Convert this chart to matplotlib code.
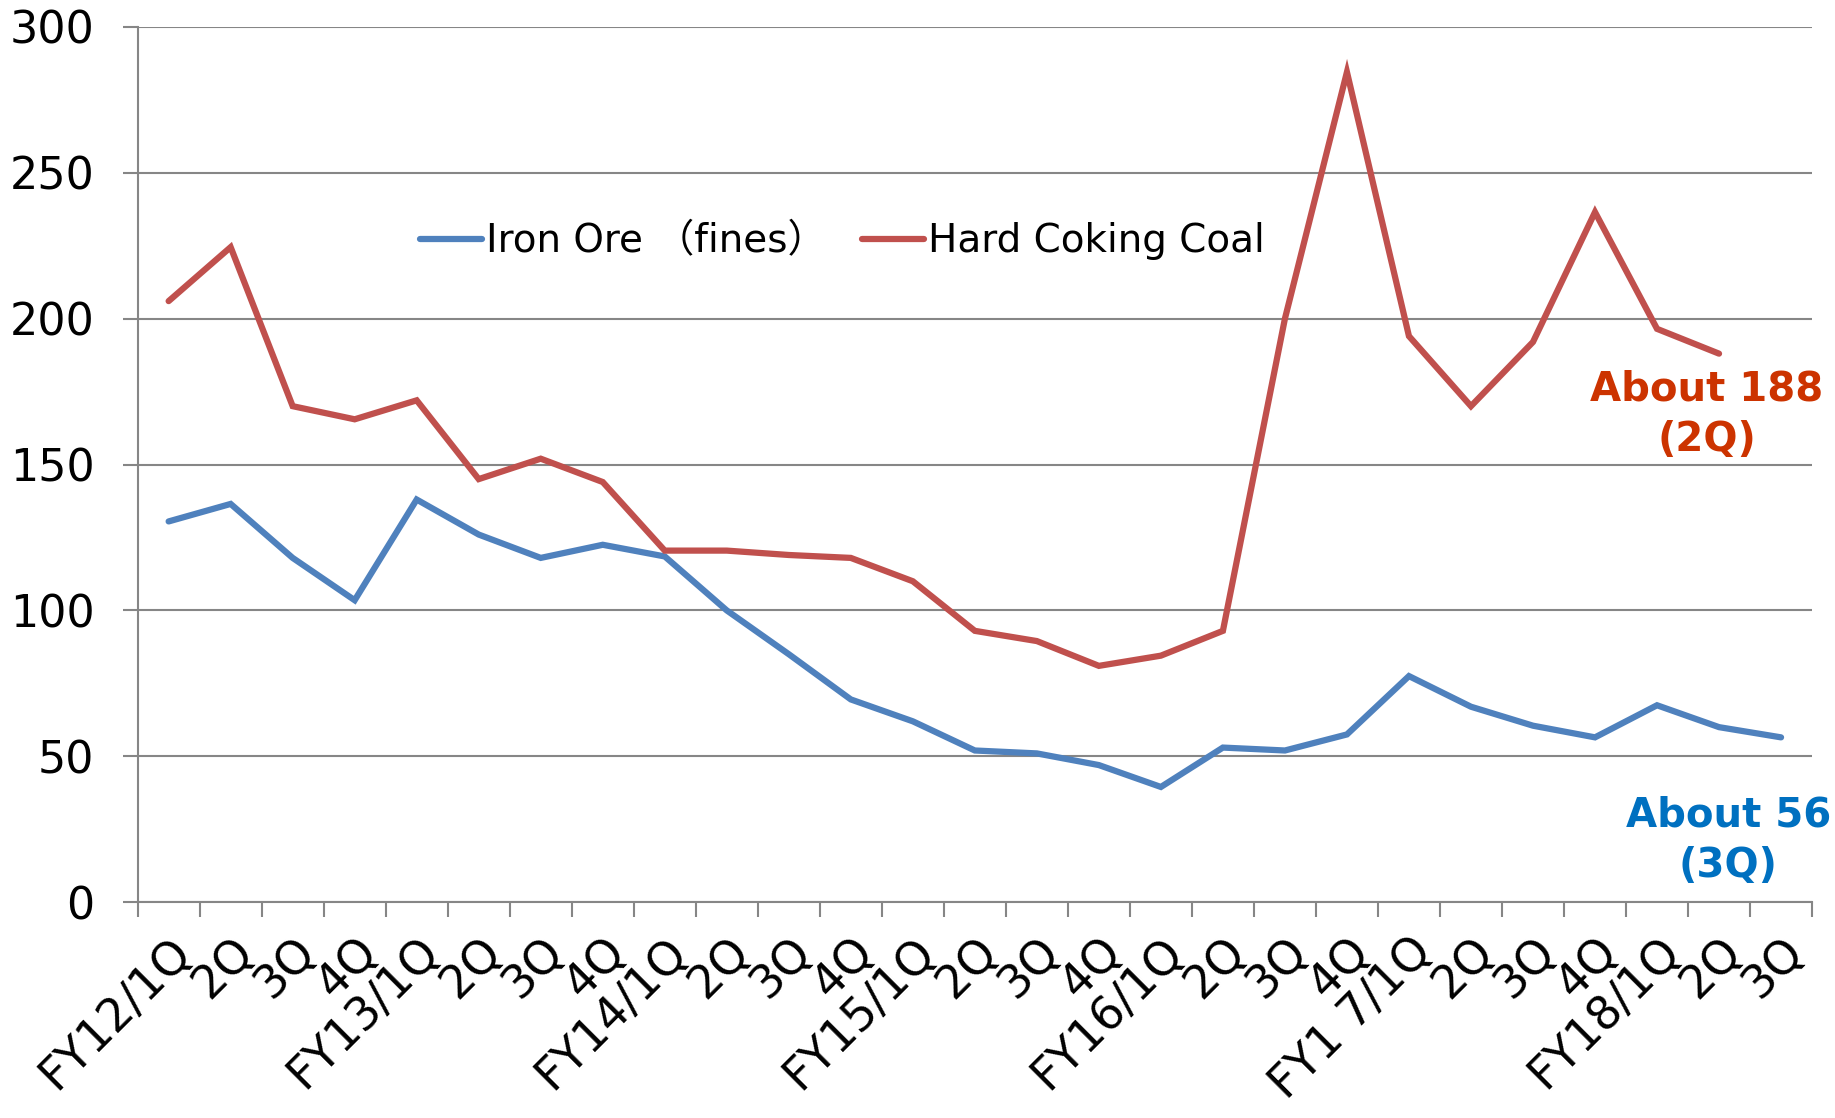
import matplotlib
matplotlib.use("Agg")
import matplotlib.pyplot as plt
import numpy as np

plt.rcParams['font.family'] = ['DejaVu Sans', 'Noto Sans CJK JP']

# quarters on the x axis
quarters = ["FY12/1Q", "2Q", "3Q", "4Q",
            "FY13/1Q", "2Q", "3Q", "4Q",
            "FY14/1Q", "2Q", "3Q", "4Q",
            "FY15/1Q", "2Q", "3Q", "4Q",
            "FY16/1Q", "2Q", "3Q", "4Q",
            "FY1 7/1Q", "2Q", "3Q", "4Q",
            "FY18/1Q", "2Q", "3Q"]

iron_ore = [130.5, 136.5, 118, 103.5, 138, 126, 118, 122.5,
            118.5, 100, 85, 69.5, 62, 52, 51, 47,
            39.5, 53, 52, 57.5, 77.5, 67, 60.5, 56.5,
            67.5, 60, 56.5]
coking_coal = [206, 224.5, 170, 165.5, 172, 145, 152, 144,
               120.5, 120.5, 119, 118, 110, 93, 89.5, 81,
               84.5, 93, 200, 284.5, 194, 170, 192, 236.5,
               196.5, 188]

blue = "#4F81BD"
red = "#C0504D"
grid = "#868686"

fig = plt.figure(figsize=(18.35, 11.18), dpi=100)
ax = fig.add_axes([0.075, 0.193, 0.9125, 0.783])

x = np.arange(len(quarters))
ax.plot(x, iron_ore, color=blue, lw=4.5, solid_capstyle='round', solid_joinstyle='miter',
        label="Iron Ore （fines）")
ax.plot(x[:len(coking_coal)], coking_coal, color=red, lw=4.5, solid_capstyle='round',
        solid_joinstyle='miter', label="Hard Coking Coal")

ax.set_xlim(-0.5, len(quarters) - 0.5)
ax.set_ylim(0, 300)
ax.set_yticks(np.arange(0, 301, 50))
ax.yaxis.grid(True, color=grid, lw=1.5)
ax.set_axisbelow(True)

for s in ["top", "right"]:
    ax.spines[s].set_visible(False)
for s in ["left", "bottom"]:
    ax.spines[s].set_color(grid)
    ax.spines[s].set_linewidth(1.5)

ax.tick_params(axis='y', length=11, width=1.5, color=grid, labelsize=32, pad=20)
ax.set_xticks(x)
ax.set_xticklabels(quarters, rotation=45, ha='right', va='top', rotation_mode='anchor')
ax.tick_params(axis='x', which='major', length=0, labelsize=33, pad=19)
ax.set_xticks(np.arange(-0.5, len(quarters)), minor=True)
ax.tick_params(axis='x', which='minor', length=11, width=1.5, color=grid)

fig.legend(loc='center left', bbox_to_anchor=(0.229, 0.784), ncol=2, frameon=False,
           fontsize=28, handlelength=1.6, handletextpad=0.1, columnspacing=0.9,
           borderpad=0, borderaxespad=0)

ax.text(24.8, 167, "About 188\n(2Q)", color="#CC3300", fontsize=29, fontweight='bold',
        ha='center', va='center', linespacing=1.35)
ax.text(25.15, 21, "About 56\n(3Q)", color="#0070C0", fontsize=29, fontweight='bold',
        ha='center', va='center', linespacing=1.35)

fig.savefig("out.png", dpi=100)
